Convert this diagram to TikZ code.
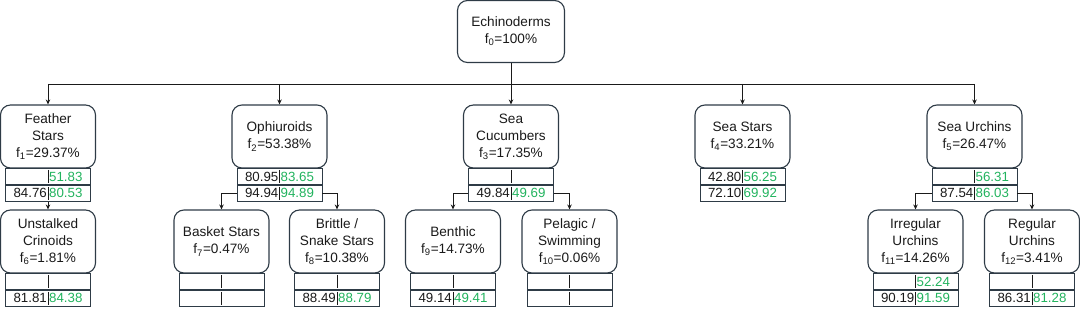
\documentclass[tikz,border=0pt]{standalone}
\usepackage{fontspec}
\setmainfont{Liberation Sans}
\usetikzlibrary{arrows.meta}
\definecolor{bord}{HTML}{2E3B46}
\definecolor{grn}{HTML}{22B35E}
\definecolor{txt}{HTML}{1A1A1A}
\tikzset{
  box/.style={draw=bord, line width=1.1pt, rounded corners=10pt, minimum width=95pt,
    minimum height=63pt, align=center, text=txt, font=\fontsize{13.6}{17}\selectfont, inner sep=0pt},
  cell/.style={draw=bord, line width=0.9pt, minimum width=85pt, minimum height=16pt, inner sep=0pt},
  num/.style={font=\fontsize{13.3}{15}\selectfont, inner sep=0pt, text=txt},
  gnum/.style={num, text=grn},
  divider/.style={draw=txt, line width=0.8pt},
  conn/.style={draw=txt, line width=0.8pt, -{Stealth[length=5pt,width=4.5pt]}},
  bar/.style={draw=txt, line width=0.8pt},
}
\newcommand{\fsub}[2]{f\textsubscript{#1}=#2\%}
% name, x, ytop, l1, r1, l2, r2
\newcommand{\mytable}[7]{%
  \node[cell, anchor=north] (#1a) at (#2,#3) {};
  \node[cell, anchor=north] (#1b) at (#1a.south) {};
  \draw[divider] ([yshift=-2pt]#1a.north) -- ([yshift=2pt]#1a.south);
  \draw[divider] ([yshift=-2pt]#1b.north) -- ([yshift=2pt]#1b.south);
  \node[num, anchor=east] (#1al) at ([xshift=-1pt]#1a.center) {#4};
  \node[gnum, anchor=west] (#1ar) at ([xshift=1pt]#1a.center) {#5};
  \node[num, anchor=east] (#1bl) at ([xshift=-1pt]#1b.center) {#6};
  \node[gnum, anchor=west] (#1br) at ([xshift=1pt]#1b.center) {#7};
}
\begin{document}
\begin{tikzpicture}[x=1pt,y=-1pt]
\useasboundingbox (0,0) rectangle (1080,315);

% root
\node[box, minimum width=107pt, minimum height=62pt] (root) at (511,31.5) {Echinoderms\\\fsub{0}{100}};

% level 1
\node[box] (n1) at (48,136.5) {Feather\\Stars\\\fsub{1}{29.37}};
\node[box] (n2) at (279.5,136.5) {Ophiuroids\\\fsub{2}{53.38}};
\node[box] (n3) at (511,136.5) {Sea\\Cucumbers\\\fsub{3}{17.35}};
\node[box] (n4) at (742.5,136.5) {Sea Stars\\\fsub{4}{33.21}};
\node[box] (n5) at (974.5,136.5) {Sea Urchins\\\fsub{5}{26.47}};

\mytable{t1}{48}{168}{}{51.83}{84.76}{80.53}
\mytable{t2}{279.5}{168}{80.95}{83.65}{94.94}{94.89}
\mytable{t3}{511}{168}{}{}{49.84}{49.69}
\mytable{t4}{742.5}{168}{42.80}{56.25}{72.10}{69.92}
\mytable{t5}{974.5}{168}{}{56.31}{87.54}{86.03}

% level 2
\node[box] (n6) at (48,241.5) {Unstalked\\Crinoids\\\fsub{6}{1.81}};
\node[box] (n7) at (221.5,241.5) {Basket Stars\\\fsub{7}{0.47}};
\node[box] (n8) at (337,241.5) {Brittle /\\Snake Stars\\\fsub{8}{10.38}};
\node[box] (n9) at (453,241.5) {Benthic\\\fsub{9}{14.73}};
\node[box] (n10) at (569.5,241.5) {Pelagic /\\Swimming\\\fsub{10}{0.06}};
\node[box] (n11) at (915.5,241.5) {Irregular\\Urchins\\\fsub{11}{14.26}};
\node[box] (n12) at (1032,241.5) {Regular\\Urchins\\\fsub{12}{3.41}};

\mytable{t6}{48}{273}{}{}{81.81}{84.38}
\mytable{t7}{221.5}{273}{}{}{}{}
\mytable{t8}{337}{273}{}{}{88.49}{88.79}
\mytable{t9}{453}{273}{}{}{49.14}{49.41}
\mytable{t10}{569.5}{273}{}{}{}{}
\mytable{t11}{915.5}{273}{}{52.24}{90.19}{91.59}
\mytable{t12}{1032}{273}{}{}{86.31}{81.28}

% connectors
\coordinate (barL) at (48,84);
\coordinate (barR) at (974.5,84);
\draw[bar] (barL) -- (barR);
\draw[conn] (root.south) -- (n3.north);
\foreach \n in {n1,n2,n4,n5}{
  \draw[conn] (\n |- barL) -- (\n.north);
}
\draw[conn] (t1b.south) -- (n6.north);
\draw[conn] (t2b.west) -| (n7.north);
\draw[conn] (t2b.east) -| (n8.north);
\draw[conn] (t3b.west) -| (n9.north);
\draw[conn] (t3b.east) -| (n10.north);
\draw[conn] (t5b.west) -| (n11.north);
\draw[conn] (t5b.east) -| (n12.north);
\end{tikzpicture}
\end{document}
